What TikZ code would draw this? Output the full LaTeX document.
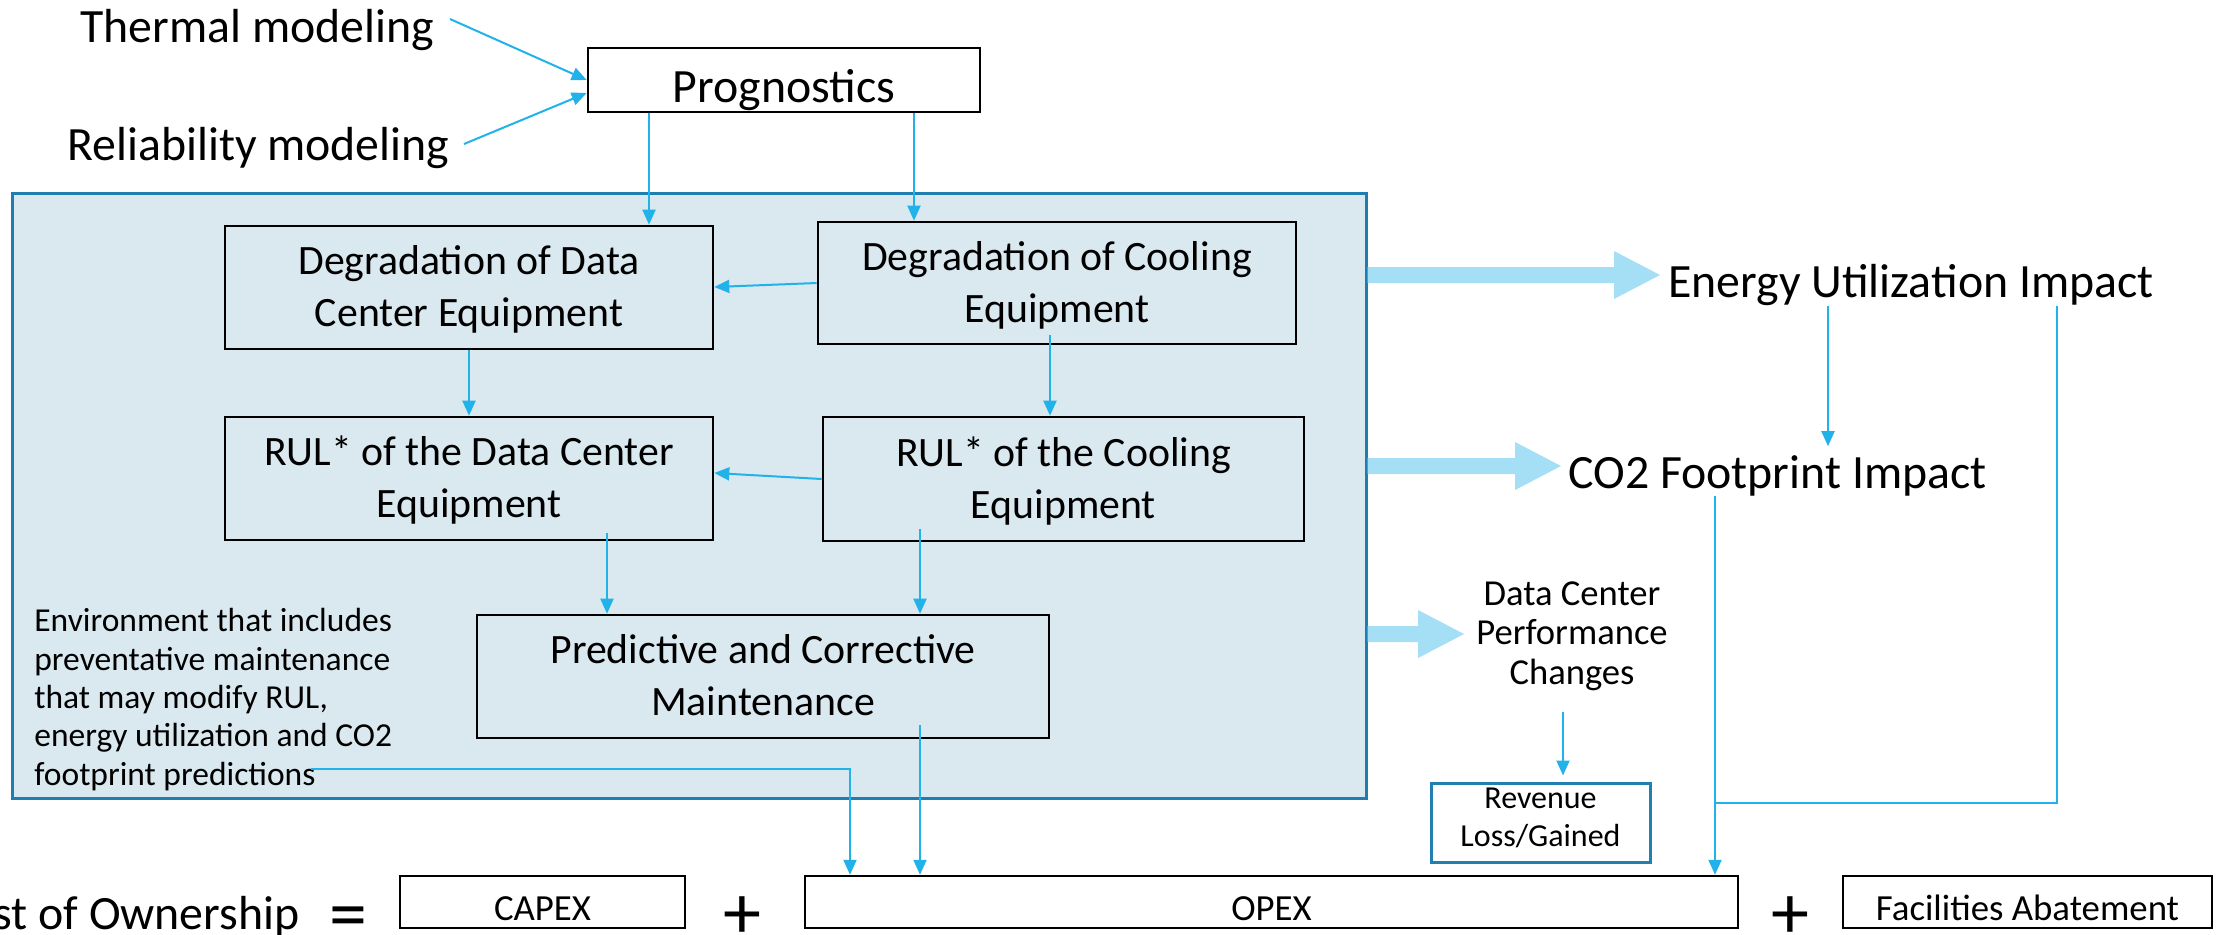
\documentclass[tikz,border=0pt]{standalone}
\usepackage{fontspec}
\setmainfont{Carlito}
\usetikzlibrary{arrows.meta,calc}
\definecolor{linkblue}{HTML}{22B2EA}
\definecolor{zonefill}{HTML}{DAE8EF}
\definecolor{zoneedge}{HTML}{1F7DAF}
\definecolor{fatblue}{HTML}{A4DFF5}
\definecolor{revedge}{HTML}{2280B0}

% broad light-blue arrow from #1 to the tip #2 (units are px, y grows downwards)
\newcommand\fatarrow[2]{%
  \fill[fatblue] ($(#1)+(0,-8)$) -- ($(#2)+(-46,-8)$) -- ($(#2)+(-46,-24)$) -- (#2)
    -- ($(#2)+(-46,24)$) -- ($(#2)+(-46,8)$) -- ($(#1)+(0,8)$) -- cycle;}

\begin{document}
\begin{tikzpicture}[x=0.5pt,y=-0.5pt,
  spanbox/.style n args={4}{at={({(#1+#3)/2},{(#2+#4)/2})},
    minimum width={(#3-#1)*0.5pt}, minimum height={(#4-#2)*0.5pt}},
  linkarrow/.style={draw=linkblue, line width=1pt, -{Triangle[length=7.5pt,width=6.5pt]}},
  linkline/.style={draw=linkblue, line width=1pt},
  bigtext/.style={inner sep=0pt, font=\fontsize{23.9}{28}\selectfont},
  procbox/.style={draw=black, line width=1.3pt, inner sep=0pt, align=center,
    font=\fontsize{20.9}{26}\selectfont},
  twoline/.style={text height=41.5pt, text depth=2.5pt},
  zonebox/.style={draw=zoneedge, fill=zonefill, line width=1.5pt, inner sep=0pt},
  notetext/.style={inner sep=0pt, align=left, font=\fontsize{16.75}{19.15}\selectfont},
  perftext/.style={inner sep=0pt, align=center, font=\fontsize{18.3}{19.75}\selectfont},
  revbox/.style={draw=revedge, line width=1.5pt, inner sep=0pt, align=center,
    font=\fontsize{16}{19}\selectfont, text height=25.5pt, text depth=2pt},
  costbox/.style={draw=black, line width=1.2pt, inner sep=0pt, align=center,
    font=\fontsize{18.4}{22}\selectfont, text height=18.5pt, text depth=0pt},
  opsign/.style={inner sep=0pt, font=\fontsize{38}{40}\selectfont}]

\useasboundingbox (0,0) rectangle (2218,934);
\clip (0,0) rectangle (2218,934);

% inputs and prognostics
\node[bigtext, anchor=base west] (thermal) at (80,42) {Thermal modeling};
\node[bigtext, anchor=base west] (reliab) at (67,160) {Reliability modeling};
\node[procbox, spanbox={588}{49}{980}{111}, font=\fontsize{23.9}{28}\selectfont,
  text height=27pt, text depth=5pt] (prog) {Prognostics};

% shaded environment
\node[zonebox, spanbox={12}{193}{1366}{798}] (zone) {};
\node[procbox, spanbox={225}{226}{713}{349}, twoline] (ddc) {Degradation of Data\\Center Equipment};
\node[procbox, spanbox={818}{222}{1296}{344}, twoline] (dce) {Degradation of Cooling\\Equipment};
\node[procbox, spanbox={225}{417}{713}{540}, twoline] (ruld) {RUL* of the Data Center\\Equipment};
\node[procbox, spanbox={823}{417}{1304}{541}, twoline] (rulc) {RUL* of the Cooling\\Equipment};
\node[procbox, spanbox={477}{615}{1049}{738}, twoline] (pcm) {Predictive and Corrective\\Maintenance};
\node[notetext, anchor=base west] (note) at (34,785)
  {Environment that includes\\preventative maintenance\\that may modify RUL,\\energy utilization and CO2\\footprint predictions};

% impacts
\node[bigtext, anchor=base west] (energy) at (1668,297) {Energy Utilization Impact};
\node[bigtext, anchor=base west] (co2) at (1568,488) {CO2 Footprint Impact};
\node[perftext, anchor=base] (perf) at (1572,684) {Data Center\\Performance\\Changes};
\node[revbox, spanbox={1431}{783}{1650}{862}] (rev) {Revenue\\Loss/Gained};

% cost equation
\node[bigtext, anchor=base east] (tco) at (300,929) {Cost of Ownership};
\node[opsign] (eq) at (348,923) {=};
\node[costbox, spanbox={400}{876}{685}{928}] (capex) {CAPEX};
\node[opsign] (plusa) at (742,918) {+};
\node[costbox, spanbox={805}{876}{1738}{928}] (opex) {OPEX};
\node[opsign] (plusb) at (1790,918) {+};
\node[costbox, spanbox={1843}{876}{2212}{928}] (fac) {Facilities Abatement};

% broad arrows out of the environment
\coordinate (ea) at (1660,275);
\coordinate (eb) at (1561,466);
\coordinate (ec) at (1464,634);
\fatarrow{zone.east |- ea}{ea}
\fatarrow{zone.east |- eb}{eb}
\fatarrow{zone.east |- ec}{ec}

% connectors
\coordinate (ta) at (450,19);
\coordinate (ra) at (464,144);
\draw[linkarrow] (ta) -- (prog.west |- 0,80);
\draw[linkarrow] (ra) -- (prog.west |- 0,93);
\draw[linkarrow] (prog.south -| 649,0) -- (ddc.north -| 649,0);
\draw[linkarrow] (prog.south -| 914,0) -- (dce.north -| 914,0);
\draw[linkarrow] (dce.west |- 0,283) -- (ddc.east |- 0,287);
\draw[linkarrow] (ddc.south -| 469,0) -- (ruld.north -| 469,0);
\coordinate (ka) at (1050,335);
\draw[linkarrow] (ka) -- (rulc.north -| ka);
\draw[linkarrow] (rulc.west |- 0,479) -- (ruld.east |- 0,473);
\coordinate (kb) at (607,533);
\coordinate (kc) at (920,529);
\draw[linkarrow] (kb) -- (pcm.north -| kb);
\draw[linkarrow] (kc) -- (pcm.north -| kc);
\coordinate (kd) at (920,725);
\draw[linkarrow] (kd) -- (opex.north -| kd);
\coordinate (noteend) at (311,769);
\draw[linkarrow] (noteend) -| (opex.north -| 850,0);
\coordinate (ke) at (co2.north -| 1828,0);
\draw[linkarrow] (energy.south -| 1828,0) -- ([yshift=4.25pt]ke);
\coordinate (join) at (1715,803);
\draw[linkline] (energy.south -| 2057,0) |- (join);
\draw[linkarrow] (co2.south -| 1715,0) -- (opex.north -| 1715,0);
\coordinate (kf) at (1563,712);
\draw[linkarrow, shorten >=3pt] (kf) -- (rev.north -| kf);
\end{tikzpicture}
\end{document}
